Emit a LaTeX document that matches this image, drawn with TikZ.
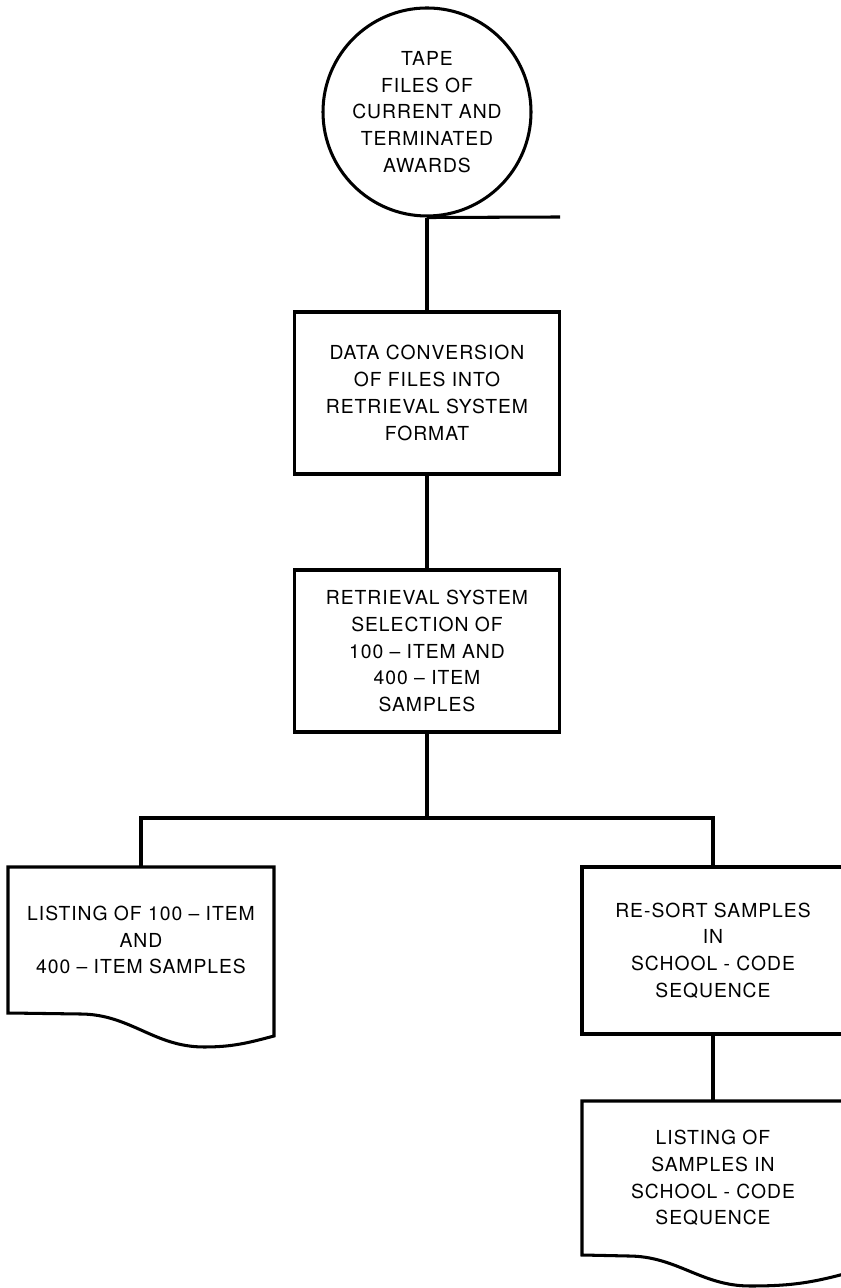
\documentclass[tikz,border=0pt]{standalone}
\usepackage{fontspec}
\newfontfamily\flowfont[LetterSpace=5]{TeX Gyre Heros}
\usetikzlibrary{positioning}

\tikzset{
  flowtext/.style={font=\flowfont\fontsize{16.5}{22.8}\selectfont, align=center},
  tapebox/.style={flowtext, draw, circle, minimum size=6.24cm, inner sep=0pt},
  stepbox/.style={flowtext, draw, rectangle, minimum width=7.95cm, minimum height=4.86cm, inner sep=0pt},
  docbox/.style={flowtext, rectangle, inner sep=0pt, outer sep=0pt},
}

\begin{document}
\begin{tikzpicture}[x=0.03cm, y=0.03cm, line width=2.6pt]
\def\xa{141}
\def\xb{427}
\def\xc{713}

\def\ya{1176}
\def\yb{895}
\def\yc{637}
\def\yd{470}
\def\ye{348}
\def\yf{337.5}
\def\yg{110}

\useasboundingbox (0,0) rectangle (841,1288);
\clip (0,0) rectangle (841,1288);

\node[tapebox](tape) at (\xb, \ya) {TAPE\\FILES OF\\CURRENT AND\\TERMINATED\\AWARDS};
\coordinate (tapeend) at (560, 1071);
\node[stepbox](conv) at (\xb, \yb) {DATA CONVERSION\\OF FILES INTO\\RETRIEVAL SYSTEM\\FORMAT};
\node[stepbox](retr) at (\xb, \yc) {RETRIEVAL SYSTEM\\SELECTION OF\\100 – ITEM AND\\400 – ITEM\\SAMPLES};
\coordinate (fork) at (\xb, \yd);

\node[docbox, minimum width=7.98cm, minimum height=4.38cm](list1) at (\xa, \ye) {LISTING OF 100 – ITEM\\AND\\400 – ITEM SAMPLES};
\node[stepbox, minimum width=7.86cm, minimum height=5.01cm](resort) at (\xc, \yf) {RE-SORT SAMPLES\\IN\\SCHOOL - CODE\\SEQUENCE};
\node[docbox, minimum width=7.86cm, minimum height=4.62cm](list2) at (\xc, \yg) {LISTING OF\\SAMPLES IN\\SCHOOL - CODE\\SEQUENCE};

\coordinate (l1r) at (274, 252);
\coordinate (l1d) at (204, 241);
\coordinate (l1f) at (80, 274);
\coordinate (l2r) at (844, 14);
\coordinate (l2d) at (750, 2);
\coordinate (l2f) at (628, 32);

\draw (list1.south east) -- (l1r) to [out=195, in=0] (l1d) to [out=180, in=0] (l1f) -- (list1.south west) -- (list1.north west) -- (list1.north east) -- cycle;
\draw (list2.south east) -- (l2r) to [out=195, in=0] (l2d) to [out=180, in=0] (l2f) -- (list2.south west) -- (list2.north west) -- (list2.north east) -- cycle;

\draw (tape.south) -- (tapeend);
\draw (tape) -- (conv);
\draw (conv) -- (retr);
\draw (retr) -- (fork);
\draw (list1.north) |- (fork) -| (resort.north);
\draw (resort) -- (list2);
\end{tikzpicture}
\end{document}
